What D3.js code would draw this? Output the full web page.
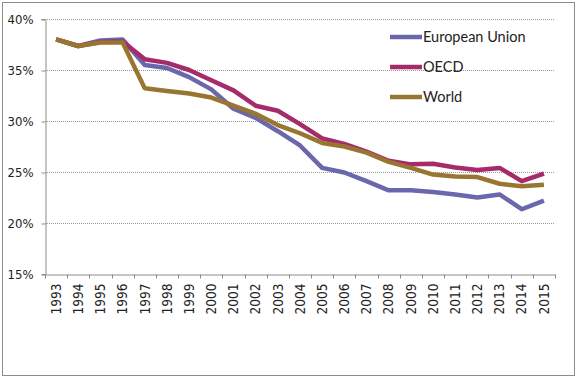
<!DOCTYPE html>
<html>
<head>
<meta charset="utf-8">
<script src="https://cdn.jsdelivr.net/npm/d3@7"></script>
<style>
  body { margin: 0; background: #fff; }
  svg { display: block; }
</style>
</head>
<body>
<div id="vis1"></div>
<script>
// data
const years = ["1993","1994","1995","1996","1997","1998","1999","2000","2001","2002","2003",
               "2004","2005","2006","2007","2008","2009","2010","2011","2012","2013","2014","2015"];
const eu    = [38.0, 37.35, 37.9, 38.0, 35.5, 35.2, 34.3, 33.1, 31.2, 30.3, 29.0,
               27.6, 25.4, 24.95, 24.1, 23.2, 23.2, 23.05, 22.8, 22.5, 22.8, 21.35, 22.2];
const oecd  = [38.0, 37.35, 37.75, 37.8, 36.05, 35.7, 35.0, 34.0, 33.0, 31.5, 31.0,
               29.7, 28.3, 27.75, 27.0, 26.1, 25.75, 25.8, 25.45, 25.2, 25.4, 24.1, 24.85];
const world = [38.0, 37.35, 37.7, 37.7, 33.2, 32.95, 32.7, 32.3, 31.5, 30.7, 29.6,
               28.8, 27.85, 27.5, 26.9, 26.0, 25.4, 24.75, 24.55, 24.5, 23.85, 23.6, 23.75];
const seriesNames = ["European Union", "OECD", "World"];
const seriesColors = ["#6a67ad", "#a52b6b", "#987631"];
const yTicks = [15, 20, 25, 30, 35, 40];

const FRAME_WIDTH = 577;
const FRAME_HEIGHT = 378;
const MARGINS = {left: 45, right: 22, top: 19, bottom: 104};
const VIS_WIDTH = FRAME_WIDTH - MARGINS.left - MARGINS.right;
const VIS_HEIGHT = FRAME_HEIGHT - MARGINS.top - MARGINS.bottom;
const TICK_FONT = "DejaVu Sans Condensed, DejaVu Sans";

const FRAME1 = d3.select("#vis1")
  .append("svg")
    .attr("width", FRAME_WIDTH)
    .attr("height", FRAME_HEIGHT);

// outer border
FRAME1.append("rect")
  .attr("x", 2.5).attr("y", 2.5)
  .attr("width", 572).attr("height", 373)
  .attr("fill", "none")
  .attr("stroke", "#8c8c8c");

const X_SCALE = d3.scaleBand()
  .domain(years)
  .range([0, VIS_WIDTH]);

const Y_SCALE = d3.scaleLinear()
  .domain([15, 40])
  .range([VIS_HEIGHT, 0]);

const g = FRAME1.append("g")
  .attr("transform", "translate(" + MARGINS.left + "," + MARGINS.top + ")");

// gridlines
g.selectAll(".grid")
  .data(yTicks.filter(d => d > 15))
  .enter()
  .append("line")
    .attr("x1", 0).attr("x2", VIS_WIDTH)
    .attr("y1", d => Y_SCALE(d) + 0.5).attr("y2", d => Y_SCALE(d) + 0.5)
    .attr("stroke", "#9a9a9a")
    .attr("stroke-dasharray", "1,1");

// y axis
const yAxis = g.append("g")
  .attr("transform", "translate(0.5,0)")
  .call(d3.axisLeft(Y_SCALE).tickValues(yTicks).tickSize(4).tickFormat(d => d + "%"));
yAxis.select(".domain").attr("stroke", "#8c8c8c");
yAxis.selectAll(".tick line").attr("stroke", "#8c8c8c").attr("transform", "translate(0,0.5)");
yAxis.selectAll("text")
  .attr("x", -12)
  .attr("font-family", TICK_FONT)
  .attr("font-size", "13px")
  .attr("fill", "#222");

// x axis
const xAxis = g.append("g")
  .attr("transform", "translate(0," + (VIS_HEIGHT + 0.5) + ")")
  .call(d3.axisBottom(X_SCALE).tickSize(0).tickSizeOuter(0));
xAxis.select(".domain").attr("stroke", "#8c8c8c");
xAxis.selectAll(".tick line").remove();
xAxis.selectAll("text")
  .attr("transform", "rotate(-90)")
  .attr("x", -9)
  .attr("y", 0)
  .attr("dy", "0.35em")
  .attr("text-anchor", "end")
  .attr("font-family", TICK_FONT)
  .attr("font-size", "13.5px")
  .attr("fill", "#222");

// category tick marks between bands
const bounds = years.map(d => X_SCALE(d)).concat([VIS_WIDTH]);
xAxis.selectAll(".cat-tick")
  .data(bounds)
  .enter()
  .append("line")
    .attr("x1", d => Math.round(d) + 0.5).attr("x2", d => Math.round(d) + 0.5)
    .attr("y1", 0).attr("y2", 4)
    .attr("stroke", "#8c8c8c");

// lines
const allSeries = [eu, oecd, world];
const line = d3.line()
  .x((d, i) => X_SCALE(years[i]) + X_SCALE.bandwidth() / 2)
  .y(d => Y_SCALE(d));

// draw order: EU, OECD, World (world on top)
g.selectAll(".series")
  .data(allSeries)
  .enter()
  .append("path")
    .attr("d", d => line(d))
    .attr("fill", "none")
    .attr("stroke", (d, i) => seriesColors[i])
    .attr("stroke-width", 4.5)
    .attr("stroke-linejoin", "round");

// legend
const legend = FRAME1.append("g")
  .attr("transform", "translate(390,37)");
seriesNames.forEach((name, i) => {
  legend.append("line")
    .attr("x1", 0).attr("x2", 32)
    .attr("y1", i * 30).attr("y2", i * 30)
    .attr("stroke", seriesColors[i])
    .attr("stroke-width", 4.5);
  legend.append("text")
    .attr("x", 33)
    .attr("y", i * 30)
    .attr("dy", "0.35em")
    .attr("font-family", "Lato")
    .attr("font-size", "14.5px")
    .attr("fill", "#222")
    .text(name);
});
</script>
</body>
</html>
